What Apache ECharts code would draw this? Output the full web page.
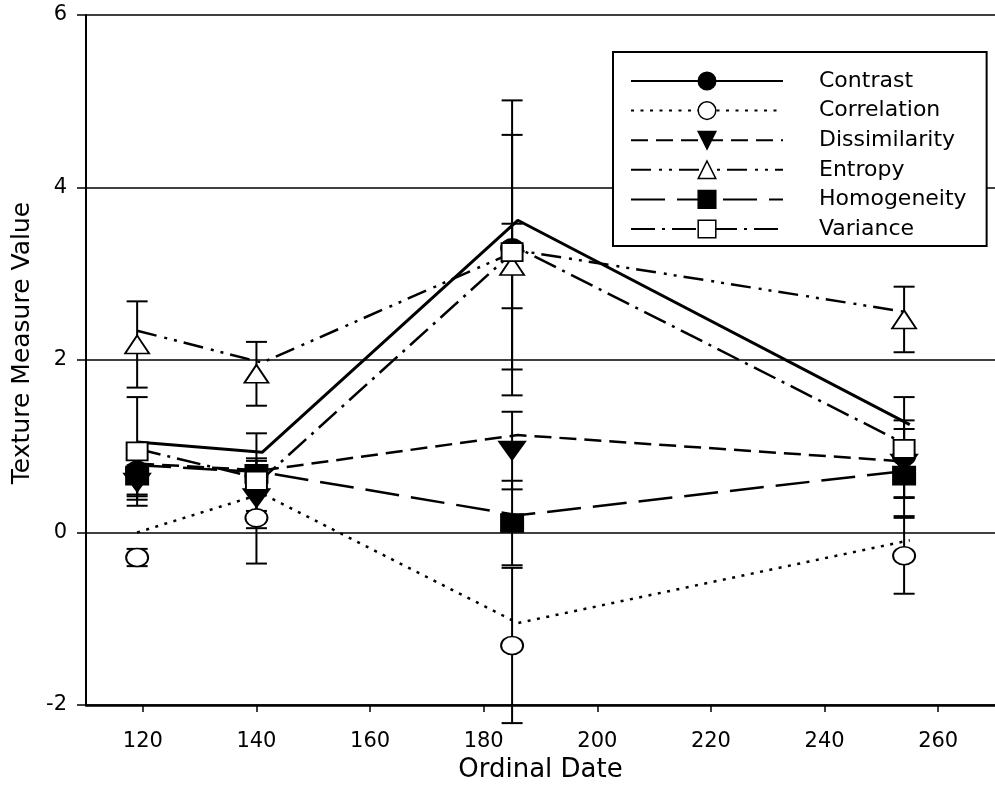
<!DOCTYPE html>
<html lang="en">
<head>
<meta charset="utf-8">
<title>Texture Measure Value</title>
<script src="https://cdn.jsdelivr.net/npm/echarts@6/dist/echarts.min.js"></script>
<style>
  html, body { margin: 0; padding: 0; background: #fff; }
  #chart { width: 995px; height: 789px; }
</style>
</head>
<body>
<div id="chart"></div>
<script>
  // measured means (markers) at each sampling date
  let names = ['Contrast', 'Correlation', 'Dissimilarity', 'Entropy', 'Homogeneity', 'Variance'];
  let markerX = [119, 140, 185, 254];
  let contrast      = [0.72, 0.66, 3.30, 0.88];
  let correlation   = [-0.29, 0.17, -1.31, -0.27];
  let dissimilarity = [0.58, 0.40, 0.95, 0.80];
  let entropy       = [2.18, 1.84, 3.09, 2.47];
  let homogeneity   = [0.66, 0.68, 0.11, 0.66];
  let variance      = [0.94, 0.60, 3.25, 0.97];

  // error bar half widths
  let contrastErr      = [0.30, 0.20, 1.71, 0.69];
  let correlationErr   = [0.10, 0.53, 0.90, 0.44];
  let dissimilarityErr = [0.20, 0.15, 0.45, 0.40];
  let entropyErr       = [0.50, 0.37, 0.49, 0.38];
  let homogeneityErr   = [0.22, 0.15, 0.49, 0.25];
  let varianceErr      = [0.63, 0.55, 1.36, 0.33];

  // fitted lines
  let lineX = [119, 141, 186, 255];
  let contrastLine      = [1.05, 0.93, 3.62, 1.25];
  let correlationLine   = [0.00, 0.45, -1.05, -0.09];
  let dissimilarityLine = [0.80, 0.72, 1.13, 0.82];
  let entropyLine       = [2.34, 1.97, 3.27, 2.55];
  let homogeneityLine   = [0.78, 0.70, 0.20, 0.72];
  let varianceLine      = [0.97, 0.62, 3.30, 1.00];

  let xTicks = [120, 140, 160, 180, 200, 220, 240, 260];

  let markerVals = [contrast, correlation, dissimilarity, entropy, homogeneity, variance];
  let errVals = [contrastErr, correlationErr, dissimilarityErr, entropyErr, homogeneityErr, varianceErr];
  let lineVals = [contrastLine, correlationLine, dissimilarityLine, entropyLine, homogeneityLine, varianceLine];

  let font = 'DejaVu Sans';

  // look of each measure
  let looks = [
    { symbol: 'circle',   size: [22, 18], rotate: 0,   fill: '#000', dash: 'solid' },
    { symbol: 'circle',   size: [22, 18], rotate: 0,   fill: '#fff', dash: [3, 6.5] },
    { symbol: 'triangle', size: [26, 18], rotate: 180, fill: '#000', dash: [17, 8] },
    { symbol: 'triangle', size: [24, 18], rotate: 0,   fill: '#fff', dash: [20, 8, 3, 7, 3, 7] },
    { symbol: 'rect',     size: [22, 18], rotate: 0,   fill: '#000', dash: [34, 12] },
    { symbol: 'rect',     size: [21, 18], rotate: 0,   fill: '#fff', dash: [24, 7, 3, 7] }
  ];
  // drawing order of the markers (last on top)
  let markerZ = [5, 4, 4, 4, 3, 6];

  function renderErr(params, api) {
    let x = api.value(0);
    let top = api.coord([x, api.value(2)]);
    let bot = api.coord([x, api.value(1)]);
    let cap = 10.5;
    let style = { stroke: '#000', lineWidth: 2 };
    return {
      type: 'group',
      children: [
        { type: 'line', shape: { x1: top[0], y1: top[1], x2: bot[0], y2: bot[1] }, style: style },
        { type: 'line', shape: { x1: top[0] - cap, y1: top[1], x2: top[0] + cap, y2: top[1] }, style: style },
        { type: 'line', shape: { x1: bot[0] - cap, y1: bot[1], x2: bot[0] + cap, y2: bot[1] }, style: style }
      ]
    };
  }

  let series = [];
  let legendData = [];
  names.forEach((name, i) => {
    let lk = looks[i];
    series.push({
      name: name + ' err',
      type: 'custom',
      renderItem: renderErr,
      clip: false,
      z: 1,
      silent: true,
      data: markerX.map((x, j) => [x, markerVals[i][j] - errVals[i][j], markerVals[i][j] + errVals[i][j]])
    });
    series.push({
      name: name,
      type: 'line',
      z: 2,
      showSymbol: false,
      symbol: lk.symbol,
      symbolRotate: lk.rotate,
      itemStyle: { color: lk.fill, borderColor: '#000', borderWidth: 1.5 },
      lineStyle: { color: '#000', width: i === 0 ? 3 : 2.5, type: lk.dash },
      data: lineX.map((x, j) => [x, lineVals[i][j]])
    });
    series.push({
      name: name + ' pts',
      type: 'scatter',
      z: markerZ[i],
      symbol: lk.symbol,
      symbolSize: lk.size,
      symbolRotate: lk.rotate,
      itemStyle: { color: lk.fill, borderColor: '#000', borderWidth: 1.8, opacity: 1 },
      data: markerX.map((x, j) => [x, markerVals[i][j]])
    });
    legendData.push({
      name: name,
      itemStyle: { color: lk.fill, borderColor: '#000', borderWidth: 1.5 }
    });
  });

  let Chart = echarts.init(document.getElementById('chart'));

  let option = {
    backgroundColor: '#fff',
    animation: false,
    grid: { left: 86, top: 15, width: 916, height: 690 },
    legend: {
      data: legendData,
      orient: 'vertical',
      left: 613,
      top: 52,
      padding: [18, 20, 6, 17],
      itemWidth: 152,
      itemHeight: 22,
      itemGap: 7.6,
      backgroundColor: '#fff',
      borderColor: '#000',
      borderWidth: 2,
      borderRadius: 0,
      z: 10,
      textStyle: { color: '#000', fontFamily: font, fontSize: 22, padding: [0, 0, 0, 31] }
    },
    xAxis: {
      type: 'value',
      min: 110,
      max: 270,
      name: 'Ordinal Date',
      nameLocation: 'middle',
      nameGap: 52,
      nameTextStyle: { color: '#000', fontFamily: font, fontSize: 26 },
      axisLine: { show: true, onZero: false, lineStyle: { color: '#000', width: 2.5 } },
      axisTick: { show: true, length: 7, lineStyle: { color: '#000', width: 1.5 }, customValues: xTicks },
      axisLabel: { color: '#000', fontFamily: font, fontSize: 21, margin: 26, customValues: xTicks },
      splitLine: { show: false }
    },
    yAxis: {
      type: 'value',
      min: -2,
      max: 6,
      interval: 2,
      name: 'Texture Measure Value',
      nameLocation: 'middle',
      nameGap: 51,
      nameTextStyle: { color: '#000', fontFamily: font, fontSize: 25, padding: [0, 0, 0, 34] },
      axisLine: { show: true, onZero: false, lineStyle: { color: '#000', width: 2 } },
      axisTick: { show: true, length: 9, lineStyle: { color: '#000', width: 1.5 } },
      axisLabel: { color: '#000', fontFamily: font, fontSize: 21, margin: 19 },
      splitLine: { show: true, lineStyle: { color: '#000', width: 1.5 } }
    },
    series: series
  };

  Chart.setOption(option);
</script>
</body>
</html>
